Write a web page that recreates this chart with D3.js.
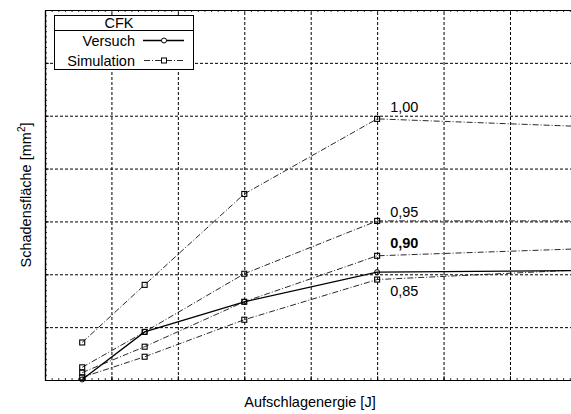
<!DOCTYPE html>
<html>
<head>
<meta charset="utf-8">
<script src="https://cdn.jsdelivr.net/npm/d3@7"></script>
<style>
  body { margin: 0; background: #fff; }
  svg { display: block; font-family: "Liberation Sans", Arial, sans-serif; }
</style>
</head>
<body>
<svg id="chart"></svg>
<script>
// Impact energy [J] of the test / simulation points
const energies = [2.8, 7.5, 15, 25, 40];
// Damage area (test)
const versuch = [1, 91, 148, 204, 207];
// Damage area (simulation) for each strength factor
const simFactors = ["1,00", "0,95", "0,90", "0,85"];
const sim100 = [71, 180, 352, 494, 480];
const sim095 = [24, 91, 201, 301, 301];
const sim090 = [14, 63, 148, 235, 248];
const sim085 = [5, 44, 114, 190, 208];
const xTicks = [0, 5, 10, 15, 20, 25, 30, 35, 40];
const yTicks = [0, 100, 200, 300, 400, 500, 600, 700];

function drawChart() {
  const svg = d3.select("#chart").attr("width", 571).attr("height", 414);
  const left = 45, top = 10, bottom = 380, right = 576.4;
  const fs = "14.5px";

  const x = d3.scaleLinear().domain([0, 40]).range([left, right]);
  const y = d3.scaleLinear().domain([0, 700]).range([bottom, top]);
  const height = bottom - top, width = right - left;

  // Grid (dashed)
  const grid = svg.append("g");
  grid.append("g")
    .attr("transform", `translate(0,${bottom})`)
    .call(d3.axisBottom(x).tickValues(xTicks).tickSize(-height).tickFormat(""))
    .call(g => g.select(".domain").remove());
  grid.append("g")
    .attr("transform", `translate(${left},0)`)
    .call(d3.axisLeft(y).tickValues(yTicks).tickSize(-width).tickFormat(""))
    .call(g => g.select(".domain").remove());
  grid.selectAll("line")
    .attr("stroke", "#000").attr("stroke-width", 1).attr("stroke-dasharray", "3,2");

  // Minor ticks pointing inward
  const xMinor = d3.range(0, 40.01, 0.5), yMinor = d3.range(0, 700.1, 10);
  const ticks = svg.append("g");
  ticks.append("g").attr("transform", `translate(0,${bottom})`)
    .call(d3.axisBottom(x).tickValues(xMinor).tickSize(-2).tickSizeOuter(0).tickFormat(""));
  ticks.append("g").attr("transform", `translate(0,${top})`)
    .call(d3.axisTop(x).tickValues(xMinor).tickSize(-2).tickSizeOuter(0).tickFormat(""));
  ticks.append("g").attr("transform", `translate(${left},0)`)
    .call(d3.axisLeft(y).tickValues(yMinor).tickSize(-2).tickSizeOuter(0).tickFormat(""));
  ticks.append("g").attr("transform", `translate(0,${bottom})`)
    .call(d3.axisBottom(x).tickValues(xTicks).tickSize(-4).tickSizeOuter(0).tickFormat(""));
  ticks.append("g").attr("transform", `translate(${left},0)`)
    .call(d3.axisLeft(y).tickValues(yTicks).tickSize(-4).tickSizeOuter(0).tickFormat(""));
  ticks.selectAll(".domain").attr("stroke", "#000").attr("stroke-width", 1.2);
  ticks.selectAll("line").attr("stroke", "#000").attr("stroke-width", 0.8);

  const line = d3.line().x((d, i) => x(energies[i])).y(d => y(d));

  // Simulation curves
  const sims = [sim100, sim095, sim090, sim085];
  sims.forEach(s => {
    svg.append("path").datum(s)
      .attr("d", line)
      .attr("fill", "none")
      .attr("stroke", "#111")
      .attr("stroke-width", 0.9)
      .attr("stroke-dasharray", "6,2,1,2");
    svg.append("g").selectAll("rect").data(s).enter().append("rect")
      .attr("x", (d, i) => x(energies[i]) - 2.5)
      .attr("y", d => y(d) - 2.5)
      .attr("width", 5).attr("height", 5)
      .attr("fill", "none").attr("stroke", "#000").attr("stroke-width", 1.1);
  });

  // Test curve
  svg.append("path").datum(versuch)
    .attr("d", line)
    .attr("fill", "none").attr("stroke", "#000").attr("stroke-width", 1.3);
  svg.append("g").selectAll("circle").data(versuch).enter().append("circle")
    .attr("cx", (d, i) => x(energies[i]))
    .attr("cy", d => y(d))
    .attr("r", 2.5)
    .attr("fill", "none").attr("stroke", "#000").attr("stroke-width", 1);

  // Factor labels next to the 25 J points
  const labelDy = [-7, -4, -7.5, 16];
  sims.forEach((s, i) => {
    svg.append("text")
      .attr("x", x(energies[3]) + 13)
      .attr("y", y(s[3]) + labelDy[i])
      .style("font-size", fs)
      .style("font-weight", simFactors[i] === "0,90" ? "bold" : "normal")
      .text(simFactors[i]);
  });

  // Axis labels
  svg.append("text")
    .attr("x", 310).attr("y", 407)
    .attr("text-anchor", "middle")
    .style("font-size", fs)
    .text("Aufschlagenergie [J]");

  const yl = svg.append("text")
    .attr("transform", `translate(31,${(top + bottom) / 2}) rotate(-90)`)
    .attr("text-anchor", "middle")
    .style("font-size", fs);
  yl.append("tspan").text("Schadensfläche [mm");
  yl.append("tspan").attr("dy", -6).style("font-size", "10px").text("2");
  yl.append("tspan").attr("dy", 6).text("]");

  // Legend
  const lg = svg.append("g");
  lg.append("rect").attr("x", 54.5).attr("y", 15.5).attr("width", 139).attr("height", 54)
    .attr("fill", "#fff").attr("stroke", "#000").attr("stroke-width", 1);
  lg.append("line").attr("x1", 54.5).attr("x2", 193.5).attr("y1", 30.5).attr("y2", 30.5)
    .attr("stroke", "#000").attr("stroke-width", 1);
  lg.append("text").attr("x", 119).attr("y", 28).attr("text-anchor", "middle")
    .style("font-size", fs).text("CFK");
  lg.append("text").attr("x", 135).attr("y", 45.5).attr("text-anchor", "end")
    .style("font-size", fs).text("Versuch");
  lg.append("text").attr("x", 135).attr("y", 65.5).attr("text-anchor", "end")
    .style("font-size", fs).text("Simulation");
  lg.append("line").attr("x1", 143).attr("x2", 184).attr("y1", 40.5).attr("y2", 40.5)
    .attr("stroke", "#000").attr("stroke-width", 1.3);
  lg.append("circle").attr("cx", 164).attr("cy", 40.5).attr("r", 2.5)
    .attr("fill", "#fff").attr("stroke", "#000");
  lg.append("line").attr("x1", 144).attr("x2", 184).attr("y1", 60.5).attr("y2", 60.5)
    .attr("stroke", "#111").attr("stroke-width", 0.9).attr("stroke-dasharray", "6,2,1,2");
  lg.append("rect").attr("x", 161.5).attr("y", 58).attr("width", 5).attr("height", 5)
    .attr("fill", "#fff").attr("stroke", "#000");
}

drawChart();
</script>
</body>
</html>
